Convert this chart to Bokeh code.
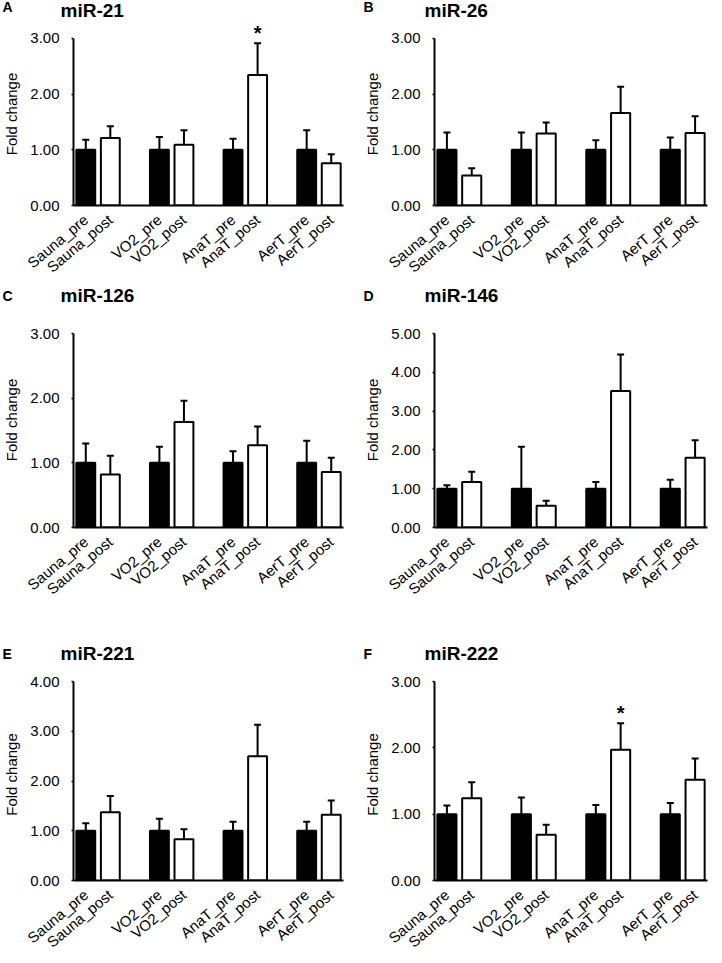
import math
from bokeh.plotting import figure
from bokeh.layouts import column, row
from bokeh.core.properties import value
from bokeh.models import (FactorRange, Range1d, Label, Whisker, TeeHead,
                          ColumnDataSource, FixedTicker, NumeralTickFormatter)
from bokeh.embed import file_html
from bokeh.resources import INLINE

# ---- data ----
categories = ["Sauna_pre", "Sauna_post", "VO2_pre", "VO2_post",
              "AnaT_pre", "AnaT_post", "AerT_pre", "AerT_post"]
x_factors = ["Sauna_pre", "Sauna_post", " ", "VO2_pre", "VO2_post", "  ",
             "AnaT_pre", "AnaT_post", "   ", "AerT_pre", "AerT_post"]

panel_letters = ["A", "B", "C", "D", "E", "F"]
panel_titles = ["miR-21", "miR-26", "miR-126", "miR-146", "miR-221", "miR-222"]

mir21_mean = [1.00, 1.21, 1.00, 1.09, 1.00, 2.34, 1.00, 0.76]
mir21_err = [0.18, 0.21, 0.23, 0.26, 0.20, 0.57, 0.35, 0.16]
mir26_mean = [1.00, 0.54, 1.00, 1.29, 1.00, 1.66, 1.00, 1.30]
mir26_err = [0.31, 0.13, 0.31, 0.20, 0.17, 0.47, 0.22, 0.30]
mir126_mean = [1.00, 0.82, 1.00, 1.63, 1.00, 1.27, 1.00, 0.86]
mir126_err = [0.30, 0.29, 0.25, 0.33, 0.18, 0.29, 0.34, 0.22]
mir146_mean = [1.00, 1.17, 1.00, 0.56, 1.00, 3.52, 1.00, 1.80]
mir146_err = [0.09, 0.27, 1.08, 0.13, 0.17, 0.94, 0.23, 0.45]
mir221_mean = [1.00, 1.37, 1.00, 0.83, 1.00, 2.50, 1.00, 1.32]
mir221_err = [0.15, 0.33, 0.24, 0.20, 0.18, 0.63, 0.18, 0.29]
mir222_mean = [1.00, 1.24, 1.00, 0.69, 1.00, 1.97, 1.00, 1.52]
mir222_err = [0.13, 0.24, 0.25, 0.15, 0.14, 0.40, 0.17, 0.32]

y_max = [3, 3, 3, 5, 4, 3]
significant = [["AnaT_post"], [], [], [], [], ["AnaT_post"]]

means = [mir21_mean, mir26_mean, mir126_mean, mir146_mean, mir221_mean, mir222_mean]
errs = [mir21_err, mir26_err, mir126_err, mir146_err, mir221_err, mir222_err]

FONT = "Liberation Sans"

# ---- layout (pixels) ----
PAGE_W = 722
COL_W = 361
COL_LEFT = [68, 71]
COL_RIGHT = [18, 15]
HEAD_H = [22, 28, 28]             # header strip heights (titles)
HEAD_TITLE_Y = [11.7, 16.7, 14.7]
HEAD_LETTER_Y = [15.5, 16.2, 14.2]
LETTER_X = [2, 363]
TITLE_X = [60, 424]
ROW_H = [262, 328, 294]           # panel figure heights
ROW_FRAME = [185, 215, 212]       # frame heights (top of figure to x axis)
ROW_AXIS = [169, 194, 199]        # pixel length of the y axis (0 .. y_max)
STAR_OFFSET = 10


def make_header(r):
    h = HEAD_H[r]
    hp = figure(width=PAGE_W, height=h, x_range=Range1d(0, PAGE_W),
                y_range=Range1d(0, h), x_axis_type=None, y_axis_type=None,
                output_backend="svg", toolbar_location=None, min_border=0)
    hp.outline_line_color = None
    hp.grid.visible = False
    hp.text(x=LETTER_X, y=[HEAD_LETTER_Y[r]] * 2,
            text=[panel_letters[2 * r], panel_letters[2 * r + 1]],
            text_font=value(FONT), text_font_size=value("14px"),
            text_font_style="bold", text_baseline="alphabetic",
            text_align="left", text_color="black")
    hp.text(x=TITLE_X, y=[HEAD_TITLE_Y[r]] * 2,
            text=[panel_titles[2 * r], panel_titles[2 * r + 1]],
            text_font=value(FONT), text_font_size=value("19px"),
            text_font_style="bold", text_baseline="alphabetic",
            text_align="left", text_color="black")
    return hp


def make_panel(i):
    c = i % 2
    r = i // 2
    H = ROW_H[r]
    bottom = H - ROW_FRAME[r]
    y_end = y_max[i] * ROW_FRAME[r] / ROW_AXIS[r]
    p = figure(width=COL_W, height=H,
               x_range=FactorRange(factors=x_factors, range_padding=0),
               y_range=Range1d(0, y_end),
               output_backend="svg", toolbar_location=None,
               min_border_left=COL_LEFT[c], min_border_right=COL_RIGHT[c],
               min_border_top=0, min_border_bottom=bottom)
    p.outline_line_color = None
    p.xgrid.grid_line_color = None
    p.ygrid.grid_line_color = None

    m = means[i]
    e = errs[i]
    fills = ["black" if cat.endswith("_pre") else "white" for cat in categories]
    src = ColumnDataSource(dict(x=categories, top=m,
                                hi=[a + b for a, b in zip(m, e)],
                                fill=fills))
    wh = Whisker(base="x", lower="top", upper="hi", source=src,
                 dimension="height", line_color="black", line_width=2,
                 upper_head=TeeHead(size=7, line_width=2, line_color="black"),
                 lower_head=None, level="underlay")
    p.add_layout(wh)
    p.vbar(x="x", top="top", bottom=0, width=0.77, source=src,
           fill_color="fill", line_color="black", line_width=2)

    ya = p.yaxis[0]
    ya.bounds = (0, y_max[i])
    ya.ticker = FixedTicker(ticks=list(range(0, y_max[i] + 1)))
    ya.formatter = NumeralTickFormatter(format="0.00")
    ya.axis_label = "Fold change"
    ya.axis_label_text_font = FONT
    ya.axis_label_text_font_size = "15px"
    ya.axis_label_text_font_style = "normal"
    ya.axis_label_text_color = "black"
    ya.axis_label_standoff = 7
    ya.major_label_text_font = FONT
    ya.major_label_text_font_size = "15px"
    ya.major_label_text_color = "black"
    ya.major_label_standoff = 12
    ya.major_tick_in = 0
    ya.major_tick_out = 2
    ya.major_tick_line_width = 1.5
    ya.minor_tick_line_color = None
    ya.axis_line_width = 2
    ya.axis_line_color = "black"

    xa = p.xaxis[0]
    xa.major_tick_line_color = None
    xa.major_tick_in = 0
    xa.major_tick_out = 0
    xa.minor_tick_line_color = None
    xa.minor_tick_in = 0
    xa.minor_tick_out = 0
    xa.axis_line_width = 2
    xa.axis_line_color = "black"
    xa.major_label_orientation = math.radians(40)
    xa.major_label_text_font = FONT
    xa.major_label_text_font_size = "15px"
    xa.major_label_text_color = "black"
    xa.major_label_standoff = 12

    for cat in significant[i]:
        k = categories.index(cat)
        p.add_layout(Label(x=k + (k // 2) + 0.5, y=m[k] + e[k],
                           y_offset=STAR_OFFSET,
                           text="*", text_font=FONT, text_font_size="20px",
                           text_font_style="bold", text_align="center",
                           text_baseline="alphabetic", text_color="black"))
    return p


panels = [make_panel(i) for i in range(6)]
rows = []
for r in range(3):
    rows.append(make_header(r))
    rows.append(row(panels[2 * r], panels[2 * r + 1], spacing=0))
layout = column(*rows, spacing=0)

open("out.html", "w").write(file_html(layout, INLINE))
